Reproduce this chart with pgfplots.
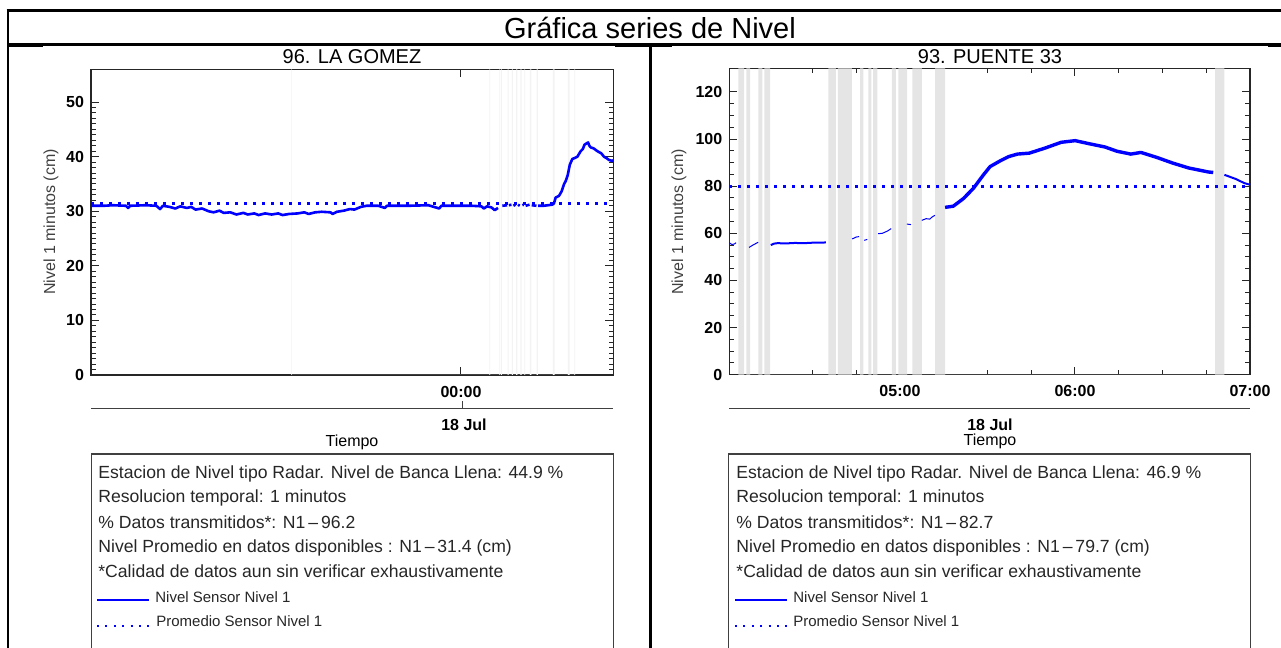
\documentclass[border=0pt]{standalone}
\usepackage{fontspec}
\setmainfont{Liberation Sans}
\usepackage{pgfplots}
\pgfplotsset{compat=1.18}
\definecolor{nivel}{RGB}{0,0,255}
\definecolor{hueco}{RGB}{229,229,229}
\definecolor{huecoleve}{RGB}{243,243,243}

\pgfplotsset{
  nivelaxis/.style={
    scale only axis,
    axis line style={black!85, line width=0.7pt},
    tick style={black!85, line width=0.5pt},
    major tick length=4pt,
    minor tick length=2.3pt,
    ymin=0,
    /pgf/number format/assume math mode=true,
    yticklabel style={font=\fontsize{8}{8}\selectfont\bfseries},
    xticklabel style={font=\fontsize{8}{8}\selectfont\bfseries, yshift=-2pt},
    unbounded coords=jump,
  },
  serie/.style={nivel, line width=1.3pt, line join=round},
  fina/.style={nivel, line width=0.5pt},
  promedio/.style={nivel, line width=1.5pt, dash pattern=on 1.5pt off 3pt},
}

\begin{document}
\begin{tikzpicture}[x=0.5pt, y=0.5pt]
\useasboundingbox (0,0) rectangle (1281,648);

% ---- marco de la tabla
\draw[line width=1.25pt] (6.7,637.5) -- (1281,637.5);
\draw[line width=1.25pt] (8,638.1) -- (8,0);
\draw[line width=1.25pt] (8,603.5) -- (1281,603.5);
\draw[line width=0.6pt] (9,601.5) -- (43,601.5);
\draw[line width=0.6pt] (615,601.5) -- (672,601.5);
\draw[line width=0.6pt] (1268,601.5) -- (1281,601.5);
\draw[line width=1.35pt] (650.7,603.5) -- (650.7,0);

\node[font=\fontsize{14.5}{14.5}\selectfont] at (650,620.5) {Gráfica series de Nivel};

% ---- 96. LA GOMEZ
\begin{axis}[nivelaxis,
  at={(45.55pt,136.5pt)}, anchor=south west,
  width=261.1pt, height=152.85pt,
  xmin=-17, xmax=7, ymax=56,
  xtick={0}, xticklabels={00:00},
  ytick={0,10,20,30,40,50}, minor y tick num=9,
]
\addplot[fill=huecoleve, draw=none, const plot] coordinates {
  (-7.81,56) (-7.78,0) (1.30,56) (1.34,0) (1.76,56) (1.80,0) (1.84,56) (1.88,0)
  (2.14,56) (2.19,0) (2.34,56) (2.39,0) (2.53,56) (2.59,0)
  (2.73,56) (2.79,0) (2.91,56) (2.95,0) (3.17,56) (3.23,0)
  (3.48,56) (3.53,0) (4.22,56) (4.30,0) (4.91,56) (4.99,0)
  (5.21,56) (5.25,0)} \closedcycle;
\addplot[serie] coordinates {
  (-17,31.0) (-16.4,31.0) (-16.0,31.1) (-15.4,31.0) (-15.3,30.6) (-15.2,31.0)
  (-14.5,31.1) (-14.0,31.0) (-13.83,30.4) (-13.7,31.0) (-13.4,30.8)
  (-13.13,30.5) (-12.9,30.9) (-12.6,30.6) (-12.4,30.8) (-12.2,30.3)
  (-11.9,30.5) (-11.6,30.0) (-11.37,29.8) (-11.1,30.1) (-10.9,29.7)
  (-10.6,29.8) (-10.32,29.4) (-10.0,29.7) (-9.8,29.4) (-9.5,29.6)
  (-9.3,29.3) (-9.0,29.6) (-8.7,29.4) (-8.4,29.6) (-8.2,29.3) (-7.9,29.5)
  (-7.5,29.6) (-7.2,29.8) (-7.0,29.5) (-6.7,29.8) (-6.4,29.9) (-6.0,29.8)
  (-5.9,29.5) (-5.7,29.9) (-5.39,30.1) (-5.1,30.4) (-4.9,30.3)
  (-4.6,30.8) (-4.34,31.0) (-3.8,31.0) (-3.5,30.6) (-3.4,31.0) (-2.4,31.0)
  (-1.5,31.1) (-1.0,30.5) (-0.9,31.0) (0,31.0) (0.5,31.0) (0.94,30.9)
  (1.05,30.5) (1.2,30.9) (1.4,30.7) (1.55,30.2) (1.7,30.6) (1.74,nan)
  (1.90,31.0) (2.12,31.1) (2.13,nan)
  (2.20,31.1) (2.32,31.2) (2.33,nan)
  (2.41,31.0) (2.50,31.2) (2.51,nan)
  (2.62,31.2) (2.70,31.0) (2.71,nan)
  (2.82,31.1) (2.88,31.2) (2.89,nan)
  (2.97,31.0) (3.15,31.2) (3.16,nan)
  (3.25,31.1) (3.47,31.0) (3.48,nan)
  (3.54,31.0) (3.8,31.0) (4.0,31.1) (4.19,31.2) (4.27,31.4) (4.35,32.5)
  (4.50,32.8) (4.62,33.6) (4.73,34.9) (4.82,35.6) (4.91,36.7) (5.0,38.5)
  (5.12,39.6) (5.2,39.7) (5.35,40.0) (5.50,41.0) (5.60,41.4) (5.68,42.2)
  (5.84,42.6) (5.90,42.0) (5.96,41.7) (6.1,41.5) (6.27,41.0) (6.45,40.6)
  (6.57,40.0) (6.70,39.7) (6.80,39.4) (6.96,39.2) (7.0,39.4)};
\addplot[promedio] coordinates {(-17,31.4) (7,31.4)};
\end{axis}

% ---- 93. PUENTE 33
\begin{axis}[nivelaxis,
  at={(364.65pt,136.65pt)}, anchor=south west,
  width=260.35pt, height=153.2pt,
  xmin=4.025, xmax=7, ymax=130,
  xtick={5,6,7}, xticklabels={05:00,06:00,07:00},
  minor xtick={4.25,4.5,4.75,5.25,5.5,5.75,6.25,6.5,6.75},
  ytick={0,20,40,60,80,100,120}, minor y tick num=3,
]
\addplot[fill=hueco, draw=none, const plot] coordinates {
  (4.077,130) (4.110,0) (4.123,130) (4.144,0) (4.191,130) (4.214,0)
  (4.226,130) (4.258,0) (4.591,130) (4.634,0) (4.645,130) (4.725,0)
  (4.773,130) (4.791,0) (4.820,130) (4.837,0) (4.847,130) (4.871,0)
  (4.954,130) (4.977,0) (4.991,130) (5.041,0) (5.071,130) (5.125,0)
  (5.201,130) (5.258,0) (6.800,130) (6.853,0)} \closedcycle;
\addplot[fina] coordinates {(4.025,56.0) (4.04,55.2) (4.055,55.5) (4.064,56.0)};
\addplot[fina] coordinates {(4.138,54.0) (4.16,55.0) (4.19,56.2)};
\addplot[nivel, line width=1pt] coordinates {
  (4.262,55.0) (4.28,55.6) (4.3,55.8) (4.35,55.7) (4.4,55.9) (4.45,55.8)
  (4.5,56.0) (4.577,56.1)};
\addplot[fina] coordinates {(4.727,57.6) (4.75,58.4) (4.767,58.6)};
\addplot[fina] coordinates {(4.796,57.0) (4.813,57.4)};
\addplot[fina] coordinates {(4.875,59.8) (4.9,60.0) (4.93,61.0) (4.95,62.0)};
\addplot[fina] coordinates {(5.04,63.9) (5.063,63.7)};
\addplot[fina] coordinates {(5.125,65.5) (5.15,66.2) (5.17,66.0) (5.185,67.0) (5.2,67.6)};
\addplot[nivel, line width=1.7pt, line join=round] coordinates {
  (5.258,71.0) (5.305,71.5) (5.362,74.7) (5.419,79.0) (5.476,84.7)
  (5.515,88.3) (5.572,90.7) (5.62,92.5) (5.671,93.6) (5.739,94.0)
  (5.831,96.2) (5.921,98.6) (6.001,99.3) (6.081,98.0) (6.172,96.6)
  (6.240,94.8) (6.319,93.6) (6.377,94.3) (6.467,92.2) (6.558,89.8)
  (6.650,87.7) (6.763,86.0) (6.79,85.8)};
\addplot[nivel, line width=1pt] coordinates {
  (6.854,84.8) (6.92,83.0) (6.967,81.3) (7.0,80.6)};
\addplot[promedio] coordinates {(4.025,79.7) (7,79.7)};
\end{axis}

% ---- titulos y ejes de fecha
\node[font=\fontsize{10}{10}\selectfont] at (352,591) {96. LA GOMEZ};
\node[font=\fontsize{10}{10}\selectfont] at (990,591) {93. PUENTE 33};
\node[font=\fontsize{8}{8}\selectfont, text=black!75, rotate=90] at (51,426) {Nivel 1 minutos (cm)};
\node[font=\fontsize{8}{8}\selectfont, text=black!75, rotate=90] at (679,426) {Nivel 1 minutos (cm)};

\draw[line width=0.75pt, black!75] (91.1,239.7) -- (613.3,239.7);
\draw[line width=0.5pt, black!75] (462,239.7) -- (462,247);
\draw[line width=0.75pt, black!75] (729.3,239.7) -- (1250,239.7);
\node[font=\fontsize{8}{8}\selectfont\bfseries] at (464,223) {18 Jul};
\node[font=\fontsize{8}{8}\selectfont\bfseries] at (990,223.7) {18 Jul};
\node[font=\fontsize{8}{8}\selectfont] at (352,205.3) {Tiempo};
\node[font=\fontsize{8}{8}\selectfont] at (990,206.3) {Tiempo};

% ---- cuadros de informacion
\draw[line width=0.8pt, black!75] (91.5,-5) -- (91.5,194) -- (613.3,194) -- (613.3,-5);
\draw[line width=0.8pt, black!75] (728.5,-5) -- (728.5,194) -- (1250.5,194) -- (1250.5,-5);

\begin{scope}[every node/.style={anchor=west, inner sep=0pt, font=\fontsize{8.8}{8.8}\selectfont, text=black!85}]
\node at (98,174) {Estacion de Nivel tipo Radar. Nivel de Banca Llena: 44.9 \%};
\node at (98,150.3) {Resolucion temporal: 1 minutos};
\node at (98,125.3) {\% Datos transmitidos*: N1\,--\,96.2};
\node at (98,99.7) {Nivel Promedio en datos disponibles : N1\,--\,31.4 (cm)};
\node at (98,76.3) {*Calidad de datos aun sin verificar exhaustivamente};
\node at (736,174) {Estacion de Nivel tipo Radar. Nivel de Banca Llena: 46.9 \%};
\node at (736,150.3) {Resolucion temporal: 1 minutos};
\node at (736,125.3) {\% Datos transmitidos*: N1\,--\,82.7};
\node at (736,99.7) {Nivel Promedio en datos disponibles : N1\,--\,79.7 (cm)};
\node at (736,76.3) {*Calidad de datos aun sin verificar exhaustivamente};
\end{scope}
\begin{scope}[every node/.style={anchor=west, inner sep=0pt, font=\fontsize{7.5}{7.5}\selectfont, text=black!85}]
\draw[nivel, line width=0.8pt] (97,48) -- (149,48);
\node at (155,51.3) {Nivel Sensor Nivel 1};
\draw[nivel, line width=1pt, dash pattern=on 1pt off 3.2pt] (97,22.3) -- (149,22.3);
\node at (156,27.3) {Promedio Sensor Nivel 1};
\draw[nivel, line width=0.8pt] (735,48) -- (787,48);
\node at (793,51.3) {Nivel Sensor Nivel 1};
\draw[nivel, line width=1pt, dash pattern=on 1pt off 3.2pt] (735,22.3) -- (787,22.3);
\node at (793,27.3) {Promedio Sensor Nivel 1};
\end{scope}
\end{tikzpicture}
\end{document}
